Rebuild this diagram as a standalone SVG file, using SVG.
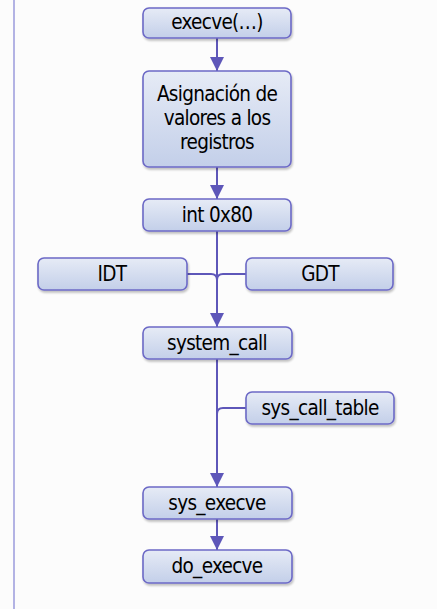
<svg xmlns="http://www.w3.org/2000/svg" width="437" height="609" viewBox="0 0 437 609">
<defs>
<linearGradient id="g" x1="0" y1="0" x2="0" y2="1">
<stop offset="0" stop-color="#e6ebf6"/>
<stop offset="1" stop-color="#c3cfe9"/>
</linearGradient>
<marker id="ah" viewBox="0 0 14 14" refX="14" refY="7" markerWidth="14" markerHeight="14" markerUnits="userSpaceOnUse" orient="auto">
<path d="M0,0 L14,7 L0,14 Z" fill="#5e57b9"/>
</marker>
<filter id="sh" x="-10%" y="-10%" width="130%" height="130%">
<feGaussianBlur in="SourceAlpha" stdDeviation="1.2"/>
<feOffset dx="1" dy="1.5" result="b"/>
<feComponentTransfer><feFuncA type="linear" slope="0.25"/></feComponentTransfer>
<feMerge><feMergeNode/><feMergeNode in="SourceGraphic"/></feMerge>
</filter>
</defs>
<style>
.box{fill:url(#g);stroke:#6c69c6;stroke-width:1.6;filter:url(#sh)}
.t{font-family:"DejaVu Sans Condensed","DejaVu Sans",sans-serif;font-size:20.5px;letter-spacing:-0.7px;fill:#000;text-anchor:middle}
.c{fill:none;stroke:#5e57b9;stroke-width:2}
</style>
<rect x="0" y="0" width="437" height="609" fill="#fcfcfc"/>
<line x1="14" y1="0" x2="14" y2="609" stroke="#b3b3e4" stroke-width="2"/>
<g id="connectors">
<path class="c" d="M217,38 V71" marker-end="url(#ah)"/>
<path class="c" d="M217,167 V199" marker-end="url(#ah)"/>
<path class="c" d="M217,231 V327" marker-end="url(#ah)"/>
<path class="c" d="M187,274 H211 Q217,274 217,280"/>
<path class="c" d="M246,274 H223 Q217,274 217,280"/>
<path class="c" d="M217,359 V487" marker-end="url(#ah)"/>
<path class="c" d="M246,408 H223 Q217,408 217,414"/>
<path class="c" d="M217,519 V550" marker-end="url(#ah)"/>
</g>
<g id="n-execve"><rect class="box" x="143" y="8" width="148" height="30" rx="6"/><text class="t" x="217" y="29">execve(…)</text></g>
<g id="n-asign"><rect class="box" x="143" y="71" width="148" height="96" rx="6"/>
<text class="t" x="217" y="101">Asignación de</text>
<text class="t" x="217" y="125">valores a los</text>
<text class="t" x="217" y="149">registros</text></g>
<g id="n-int"><rect class="box" x="143" y="199" width="148" height="32" rx="6"/><text class="t" x="217" y="222">int 0x80</text></g>
<g id="n-idt"><rect class="box" x="38" y="258" width="149" height="32" rx="6"/><text class="t" x="112" y="281">IDT</text></g>
<g id="n-gdt"><rect class="box" x="246" y="258" width="147" height="32" rx="6"/><text class="t" x="320" y="281">GDT</text></g>
<g id="n-syscall"><rect class="box" x="143" y="327" width="149" height="32" rx="6"/><text class="t" x="217" y="350">system_call</text></g>
<g id="n-table"><rect class="box" x="246" y="392" width="148" height="32" rx="6"/><text class="t" x="320" y="415">sys_call_table</text></g>
<g id="n-sysexecve"><rect class="box" x="143" y="487" width="149" height="32" rx="6"/><text class="t" x="217" y="510">sys_execve</text></g>
<g id="n-doexecve"><rect class="box" x="143" y="550" width="149" height="33" rx="6"/><text class="t" x="217" y="573">do_execve</text></g>
</svg>
